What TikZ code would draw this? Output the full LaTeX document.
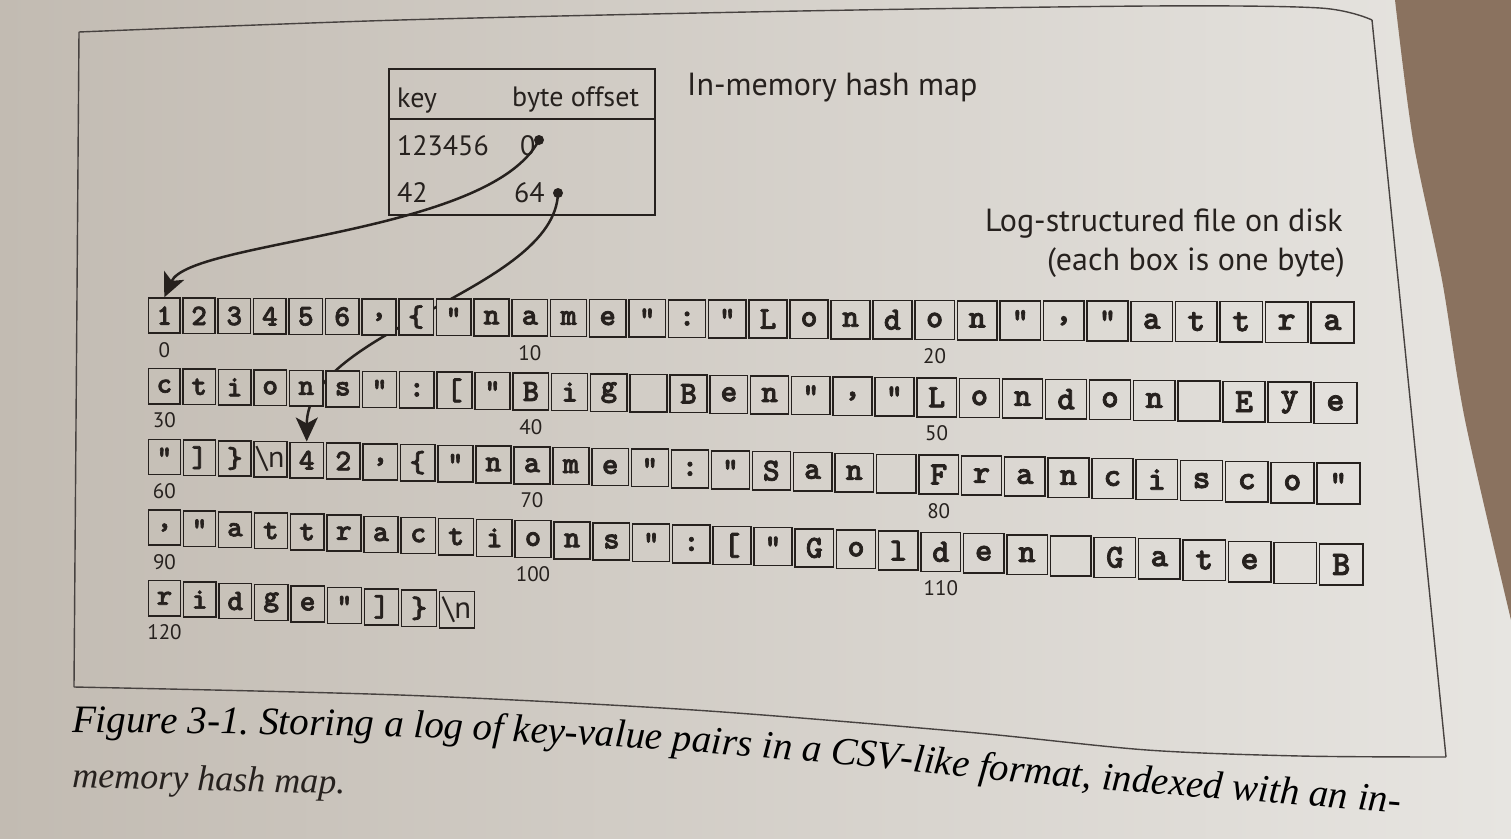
\documentclass[tikz,border=0pt]{standalone}
\usepackage{fontspec}
\setsansfont{PT Sans}
\newfontfamily\capfont{Liberation Serif}
\newfontfamily\bytefont{lmmonolt10-bold.otf}[FakeBold=2.2]
\usetikzlibrary{arrows.meta,decorations.text}

\definecolor{paperL}{HTML}{C2BBB2}
\definecolor{paperR}{HTML}{E7E5E1}
\definecolor{ink}{HTML}{26211E}
\definecolor{shelf}{HTML}{8A725F}

\pgfdeclarelayer{paperlayer}
\pgfdeclarelayer{behind}
\pgfsetlayers{paperlayer,behind,main}

\tikzset{
  bytebox/.style={draw=ink, line width=1.5pt, inner sep=0pt, text=ink},
  offlabel/.style={font=\sffamily\fontsize{21}{21}\selectfont, text=ink, inner sep=0pt},
  maptext/.style={font=\sffamily\fontsize{28}{28}\selectfont, text=ink, inner sep=0pt, anchor=base west},
  titletext/.style={font=\sffamily\fontsize{32}{32}\selectfont, text=ink, inner sep=0pt},
  captext/.style={font=\capfont\itshape\fontsize{36}{36}\selectfont, text=ink, inner sep=0pt},
  pointer/.style={draw=ink, line width=2.5pt, -{Stealth[length=24pt,width=22pt,inset=6pt]}},
  dot/.style={circle, fill=ink, inner sep=0pt, minimum size=10pt},
  framel/.style={draw=ink!85, line width=1.4pt},
}

% escaped newline shown in a byte box
\newcommand\bsn{{\sffamily\mdseries\textbackslash n}}

% one row of byte boxes: #1 row number, #2 offset of its first byte, #3 the bytes
\newcommand\byterow[3]{%
  \foreach \bytech [count=\bidx from 0] in {#3} {%
    \pgfmathsetmacro\xl{147+(34.4+0.1*#1)*\bidx+0.196*\bidx*\bidx+1.5}%
    \pgfmathsetmacro\xr{147+(34.4+0.1*#1)*(\bidx+1)+0.196*(\bidx+1)*(\bidx+1)-1.5}%
    \pgfmathsetmacro\cx{(\xl+\xr)/2}%
    \pgfmathsetmacro\fr{(\cx-147)/1209}%
    \pgfmathsetmacro\yt{298+70.5*#1+(4+10.3*#1)*\fr}%
    \pgfmathsetmacro\hh{35+6*\fr}%
    \pgfmathsetmacro\cy{\yt+\hh/2}%
    \pgfmathsetmacro\fs{0.84*\hh}%
    \pgfmathsetmacro\pct{\cx/15.11}%
    \pgfmathtruncatemacro\bid{#2+\bidx}%
    \node[bytebox, fill=paperR!\pct!paperL, minimum width=\xr-\xl, minimum height=\hh,
          font=\bytefont\fontsize{\fs}{\fs}\selectfont] (b\bid) at (\cx,\cy) {\bytech};
  }%
}

\begin{document}
\begin{tikzpicture}[x=1pt,y=-1pt]
\useasboundingbox (0,0) rectangle (1511,838);

% paper, and the table top beyond the page edge
\begin{pgfonlayer}{paperlayer}
  \shade[left color=paperL, right color=paperR] (0,0) rectangle (1511,838);
  \fill[shelf] plot[smooth] coordinates {(1511,620) (1465,420) (1442,280) (1413,140) (1395,0)}
               -- (1511,0) -- cycle;
\end{pgfonlayer}

% figure frame
\draw[framel] plot[smooth] coordinates {(79,32) (400,20) (800,11) (1150,6) (1320,8) (1372,20)};
\draw[framel] (1372,20) -- (1446,757);
\draw[framel] plot[smooth] coordinates {(74,687) (400,695) (694,710) (966,732) (1147,750) (1300,756) (1446,757)};
\draw[framel] (79,32) -- (74,687);

% in-memory hash map
\node[draw=ink, line width=1.6pt, minimum width=266pt, minimum height=146pt,
      anchor=north west, inner sep=0pt] (map) at (388,68) {};
\coordinate (hdr) at (0,119);
\draw[draw=ink, line width=1.6pt] (map.west |- hdr) -- (map.east |- hdr);
\node[maptext] (kh) at (397,107) {key};
\node[maptext] (oh) at (512,106) {byte offset};
\node[maptext] (k1) at (397,155) {123456};
\node[maptext] (o1) at (520,155) {0};
\node[maptext] (k2) at (397,202) {42};
\node[maptext] (o2) at (514,202) {64};
\node[dot] (d0) at (539,140) {};
\node[dot] (d64) at (558,193) {};

\node[titletext, anchor=base west] (t1) at (687,95) {In-memory hash map};
\node[titletext, anchor=base east] (t2) at (1343,231) {Log-structured file on disk};
\node[titletext, anchor=base east] (t3) at (1345,270) {(each box is one byte)};

% the log file, one box per byte
\byterow{0}{0}{1,2,3,4,5,6,{,},\{,",n,a,m,e,",:,",L,o,n,d,o,n,",{,},",a,t,t,r,a}
\byterow{1}{30}{c,t,i,o,n,s,",:,[,",B,i,g,{},B,e,n,",{,},",L,o,n,d,o,n,{},E,y,e}
\byterow{2}{60}{",],\},\bsn,4,2,{,},\{,",n,a,m,e,",:,",S,a,n,{},F,r,a,n,c,i,s,c,o,"}
\byterow{3}{90}{{,},",a,t,t,r,a,c,t,i,o,n,s,",:,[,",G,o,l,d,e,n,{},G,a,t,e,{},B}
\byterow{4}{120}{r,i,d,g,e,",],\},\bsn}

% byte offsets
\foreach \n in {0,10,...,120}
  \node[offlabel] (l\n) at ([yshift=-16pt]b\n.south) {\n};

% pointers from the hash map into the file
\begin{pgfonlayer}{behind}
  \draw[pointer] (d64.center) .. controls (555,290) and (307,330) .. (b64.north);
\end{pgfonlayer}
\draw[pointer] (d0.center) .. controls (490,235) and (190,240) .. (b0.north);

% caption
\path[decorate, decoration={text along path, text align=left,
   text={|\capfont\itshape\fontsize{39}{39}\selectfont|Figure 3-1. Storing a log of key-value pairs in a CSV-like format, indexed with an in-}}]
   plot[smooth] coordinates {(72,732) (400,737) (650,749) (850,765) (1050,785) (1400,813) (1500,821)};
\node[captext, anchor=base west, rotate=-1.5] (cap2) at (72,787) {memory hash map.};

\end{tikzpicture}
\end{document}
